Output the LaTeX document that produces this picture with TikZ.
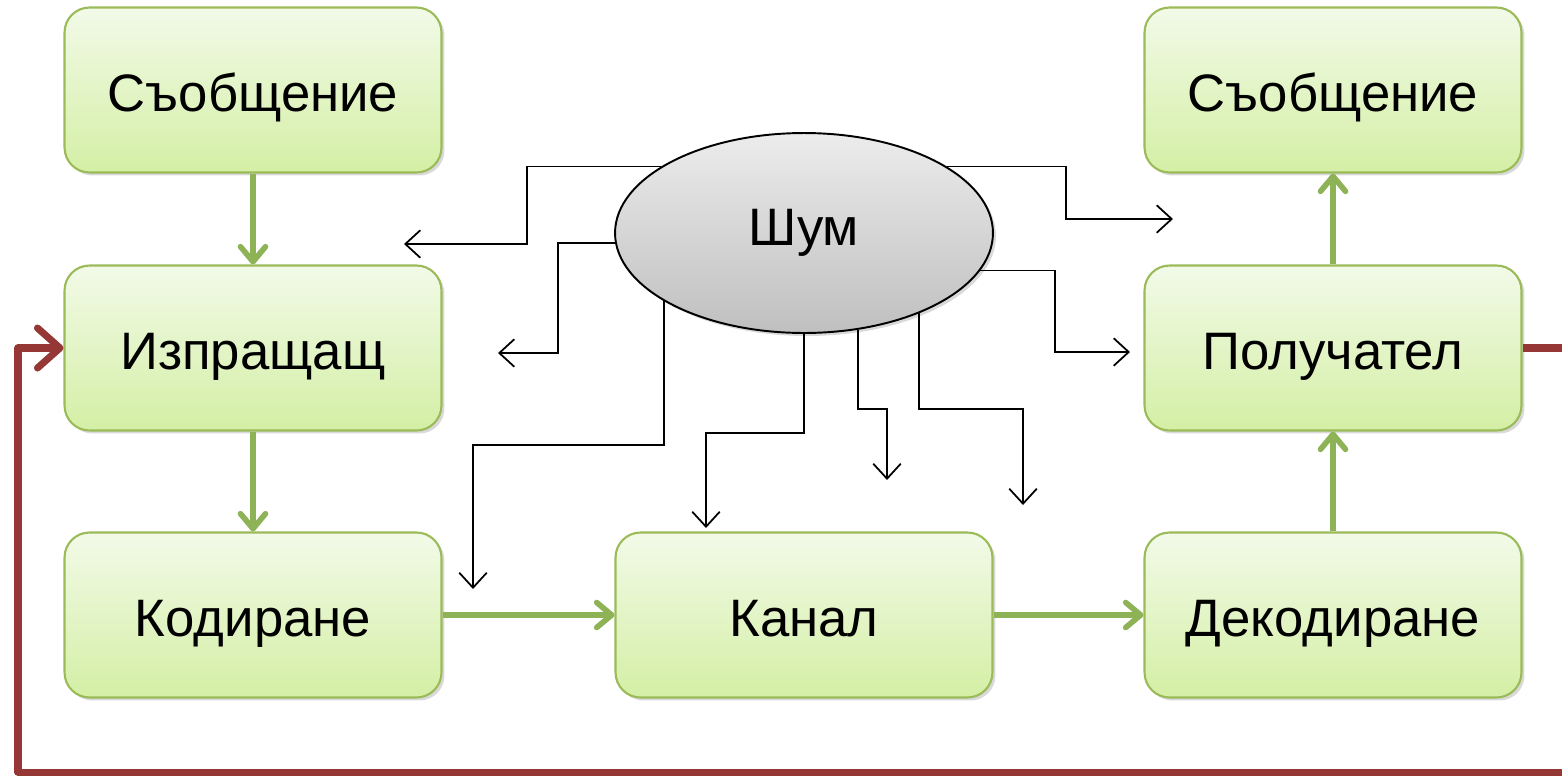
\documentclass[tikz,border=0pt]{standalone}
\usepackage{fontspec}
\setmainfont{Liberation Sans}
\usepackage{xcolor}
\usetikzlibrary{shapes,arrows.meta,positioning,shadows}

\definecolor{boxline}{HTML}{9BBB59}
\definecolor{boxtop}{HTML}{F2FAE8}
\definecolor{boxbottom}{HTML}{D4EFA5}
\definecolor{flowgreen}{HTML}{8EB256}
\definecolor{loopred}{HTML}{953735}

\begin{document}
\begin{tikzpicture}[x=0.02cm, y=-0.02cm,
  block/.style={rectangle, rounded corners=0.5cm, draw=boxline, line width=1.2pt,
    top color=boxtop, bottom color=boxbottom, minimum width=7.54cm, minimum height=3.3cm,
    font=\fontsize{30}{36}\selectfont, text height=30pt, text depth=5pt,
    drop shadow={opacity=0.3, shadow xshift=0.06cm, shadow yshift=-0.06cm}},
  cloud/.style={ellipse, draw=black, line width=1.1pt, top color=gray!15, bottom color=gray!50,
    minimum width=7.56cm, minimum height=4cm, inner sep=0pt,
    font=\fontsize{30}{36}\selectfont,
    drop shadow={opacity=0.3, shadow xshift=0.06cm, shadow yshift=-0.06cm}},
  flow/.style={draw=flowgreen, line width=3.2pt, -{Straight Barb[length=0.3cm, width=0.5cm, round]}},
  feedback/.style={draw=loopred, line width=4pt, line join=round,
    -{Straight Barb[length=0.45cm, width=0.8cm, round]}},
  noisy/.style={draw=black, line width=1pt, -{Straight Barb[length=0.3cm, width=0.55cm]}}]

\useasboundingbox (0,0) rectangle (1562,775);

\node[block] (msgA) at (253,90) {Съобщение};
\node[block] (send) at (253,348) {Изпращащ};
\node[block] (code) at (253,615) {Кодиране};
\node[block] (chan) at (804,615) {Канал};
\node[block] (dec) at (1333,615) {Декодиране};
\node[block] (recv) at (1333,348) {Получател};
\node[block] (msgB) at (1333,90) {Съобщение};

\node[cloud] (noise) at (804,233) {Шум};

\coordinate (n1) at (404,244);
\coordinate (n2) at (498,353);
\coordinate (n3) at (473,589);
\coordinate (n4) at (706,528);
\coordinate (n5) at (887,480);
\coordinate (n6) at (1023,505);
\coordinate (n7) at (1173,219);
\coordinate (n8) at (1130,352);

\draw[noisy] (noise.155) -| (527,244) -- (n1);
\draw[noisy] (noise.183) -| (558,353) -- (n2);
\draw[noisy] (noise.206) |- (473,445) -- (n3);
\draw[noisy] (noise.south) |- (706,433) -- (n4);
\draw[noisy] (noise.299) |- (887,409) -- (n5);
\draw[noisy] (noise.325) |- (1023,409) -- (n6);
\draw[noisy] (noise.25) -| (1066,219) -- (n7);
\draw[noisy] (noise.348) -| (1055,352) -- (n8);

\draw[flow] (msgA) -- (send);
\draw[flow] (send) -- (code);
\draw[flow] (code) -- (chan);
\draw[flow] (chan) -- (dec);
\draw[flow] (dec) -- (recv);
\draw[flow] (recv) -- (msgB);

\coordinate (loopR) at (1620,772);
\coordinate (loopL) at (18,772);
\draw[feedback] (recv.east) -| (loopR) -- (loopL) |- (send.west);

\end{tikzpicture}
\end{document}
